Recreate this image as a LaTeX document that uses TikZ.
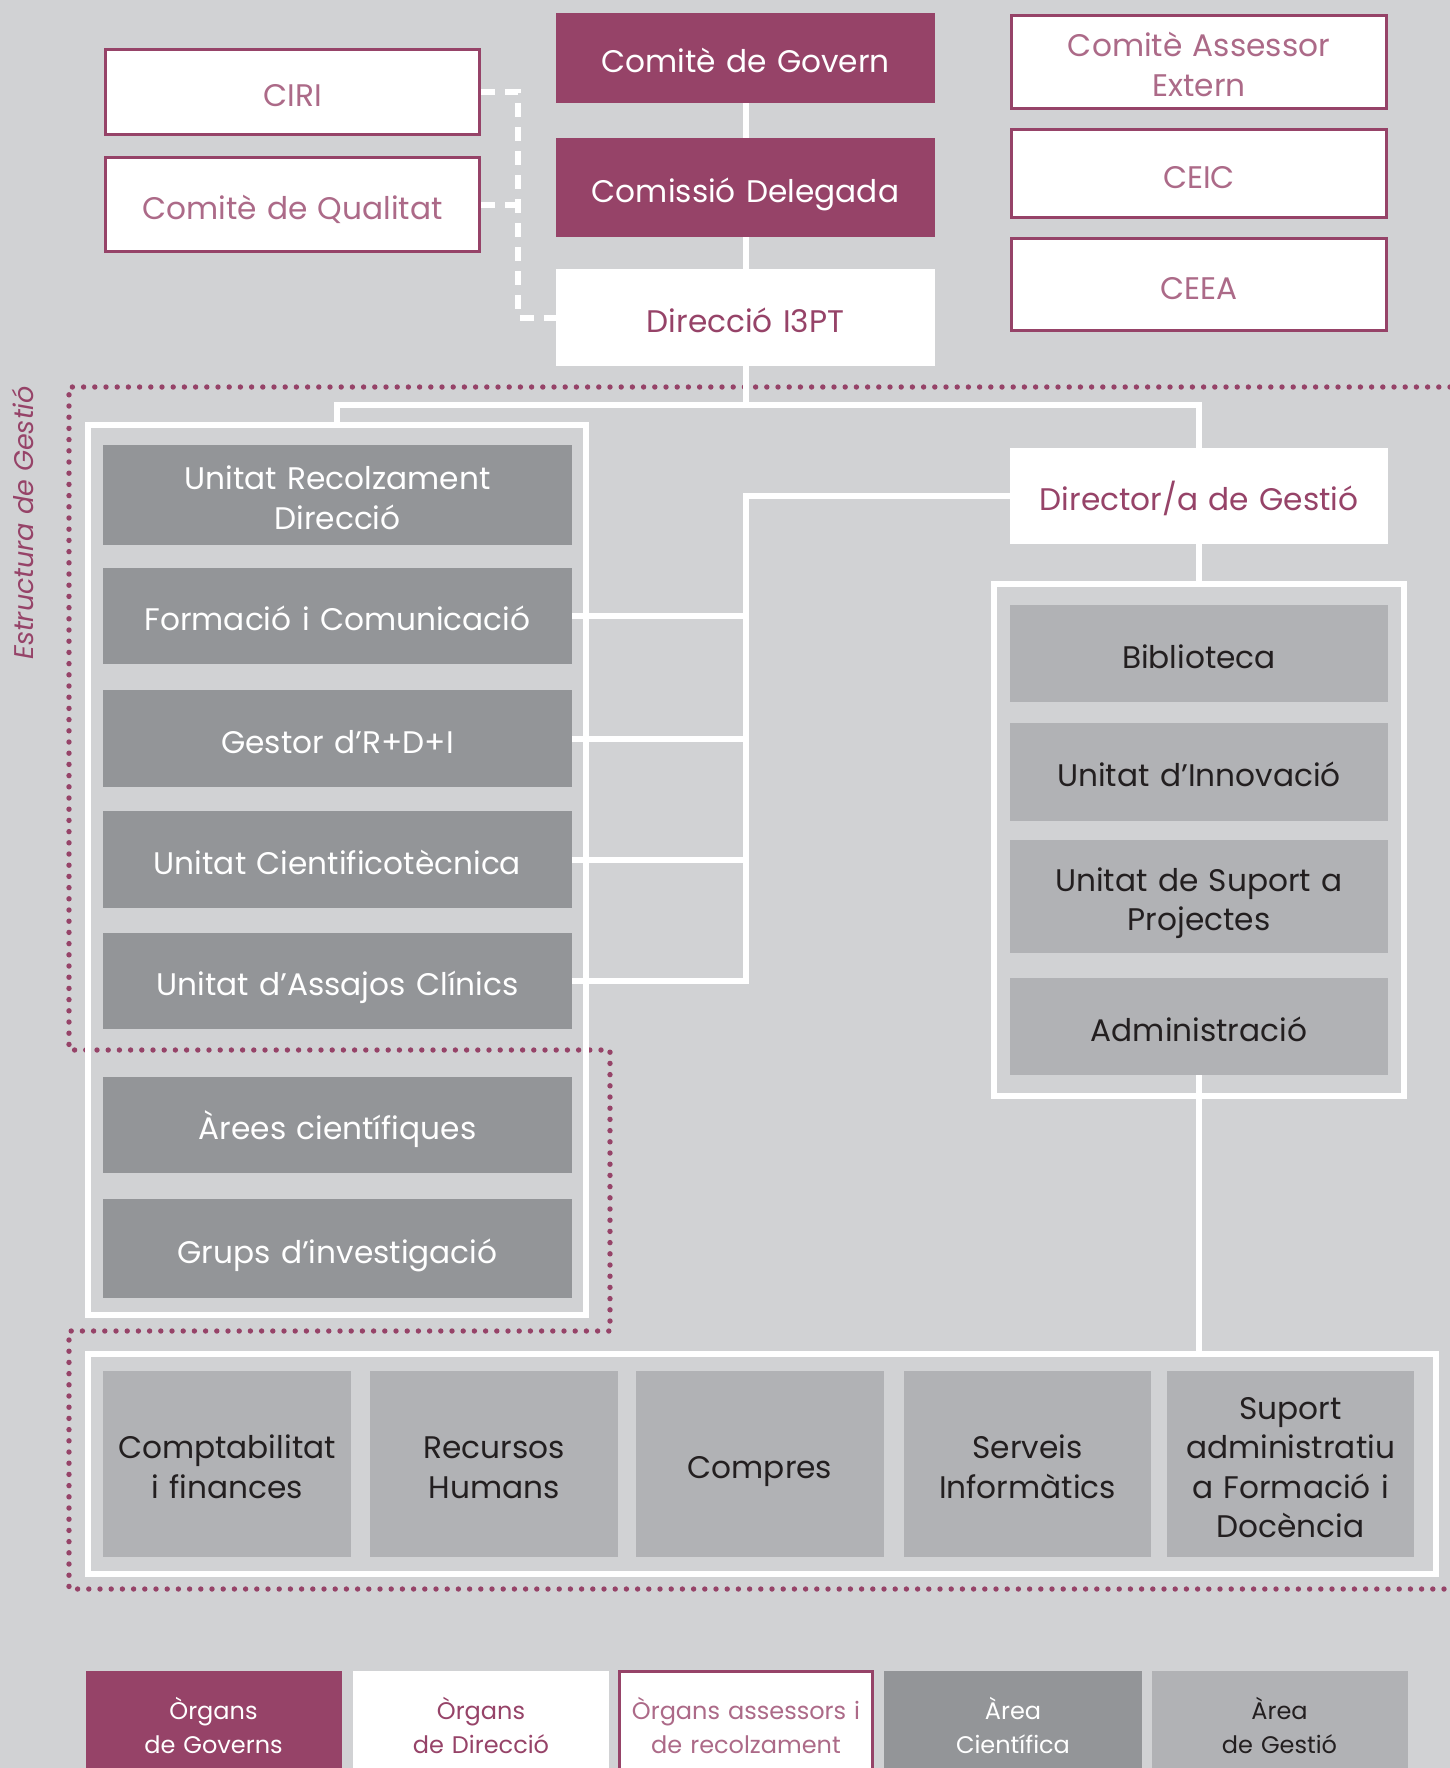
\documentclass[tikz,border=0pt]{standalone}
\usepackage{fontspec}
\setmainfont{Poppins}
\usetikzlibrary{positioning}

\definecolor{fons}{HTML}{D1D2D4}
\definecolor{granat}{HTML}{964368}
\definecolor{granatclar}{HTML}{AC6A88}
\definecolor{grisfosc}{HTML}{939598}
\definecolor{grisclar}{HTML}{B1B2B5}
\definecolor{textfosc}{HTML}{231F20}

\tikzset{
    caixa/.style={align=center, text width=180pt,
                  execute at begin node={\rule{0pt}{1.33em}},
                  execute at end node={\rule[-0.4em]{0pt}{0pt}}},
    govern/.style={caixa, fill=granat, text=white},
    direccio/.style={caixa, fill=white, text=granat},
    assessor/.style={caixa, fill=white, draw=granat, line width=1.5pt, text=granatclar},
    cientific/.style={caixa, fill=grisfosc, text=white, minimum width=234.5pt, text width=228pt},
    gestio/.style={caixa, fill=grisclar, text=textfosc},
    baix/.style={gestio, minimum width=#1, minimum height=93pt, text width=120pt},
    marc/.style={draw=white, line width=3pt, minimum width=#1},
    linia/.style={draw=white, line width=3pt},
    discont/.style={draw=white, line width=3pt, dash pattern=on 7pt off 5pt},
    puntejat/.style={draw=granat, line width=2.7pt, line cap=round, dash pattern=on 0pt off 5.6pt},
    llegenda/.style={minimum width=128pt, minimum height=54pt, text width=125pt, font=\fontsize{12}{17}\selectfont}
}

\begin{document}
\begin{tikzpicture}[
    x=0.5pt, y=-0.5pt,
    every node/.style={inner sep=0pt, font=\fontsize{15.6}{19.8}\selectfont}
]
\useasboundingbox (0,0) rectangle (1450,1768);
\fill[fons] (0,0) rectangle (1450,1768);

% Estructura de gestio
\draw[puntejat] (1450,387) -- (69,387) -- (69,1050) -- (610,1050) -- (610,1331)
    -- (69,1331) -- (69,1589) -- (1450,1589);
\node[text=granat, rotate=90, font=\fontsize{13.5}{16}\selectfont\itshape] (estructura) at (23,523) {Estructura de Gestió};

% Organs de govern i direccio
\node[govern, minimum width=189.5pt, minimum height=45pt] (govern) at (745.5,58) {Comitè de Govern};
\node[govern, minimum width=189.5pt, minimum height=49.5pt] (comissio) at (745.5,187.5) {Comissió Delegada};
\node[direccio, minimum width=189.5pt, minimum height=48.5pt] (direccio) at (745.5,317.5) {Direcció I3PT};

% Organs assessors
\node[assessor, minimum width=187pt, minimum height=42.5pt] (ciri) at (292.5,92) {CIRI};
\node[assessor, minimum width=187pt, minimum height=47pt] (qualitat) at (292.5,204.5) {Comitè de Qualitat};
\node[assessor, minimum width=187.5pt, minimum height=46.5pt] (extern) at (1199,62) {Comitè Assessor\\Extern};
\node[assessor, minimum width=187.5pt, minimum height=44pt] (ceic) at (1199,173.5) {CEIC};
\node[assessor, minimum width=187.5pt, minimum height=46pt] (ceea) at (1199,284.5) {CEEA};

% Marcs
\node[marc=249pt, minimum height=445pt] (marcesq) at (337,870) {};
\node[marc=205pt, minimum height=256pt] (marcdre) at (1199,840) {};
\node[marc=674pt, minimum height=110pt] (marcinf) at (762,1464) {};

% Area cientifica
\node[cientific, minimum height=50pt] (recolz) at (337.5,495) {Unitat Recolzament\\Direcció};
\node[cientific, minimum height=48pt] (formacio) at (337.5,616) {Formació i Comunicació};
\node[cientific, minimum height=48.5pt] (gestor) at (337.5,738.5) {Gestor d’R+D+I};
\node[cientific, minimum height=48.5pt] (cientif) at (337.5,859.5) {Unitat Cientificotècnica};
\node[cientific, minimum height=48pt] (assajos) at (337.5,981) {Unitat d’Assajos Clínics};
\node[cientific, minimum height=48pt] (arees) at (337.5,1125) {Àrees científiques};
\node[cientific, minimum height=49.5pt] (grups) at (337.5,1248.5) {Grups d’investigació};

% Area de gestio
\node[direccio, minimum width=189pt, minimum height=48pt] (director) at (1199,496) {Director/a de Gestió};
\node[gestio, minimum width=189pt, minimum height=48.5pt] (biblio) at (1199,653.5) {Biblioteca};
\node[gestio, minimum width=189pt, minimum height=49pt] (innovacio) at (1199,772) {Unitat d’Innovació};
\node[gestio, minimum width=189pt, minimum height=56.5pt] (projectes) at (1199,896.5) {Unitat de Suport a\\Projectes};
\node[gestio, minimum width=189pt, minimum height=48.5pt] (admin) at (1199,1026.5) {Administració};

\node[baix=124pt] (compt) at (227,1464) {Comptabilitat\\i finances};
\node[baix=124pt] (rrhh) at (494,1464) {Recursos\\Humans};
\node[baix=124pt] (compres) at (760,1464) {Compres};
\node[baix=123.5pt] (serveis) at (1027.5,1464) {Serveis\\Informàtics};
\node[baix=123.5pt] (suportadm) at (1290.5,1464) {Suport\\administratiu\\a Formació i\\Docència};

% Connexions
\coordinate (nus) at (745.5,405);
\coordinate (bus) at (745.5,0);
\coordinate (guio) at (518,0);
\draw[linia] (govern) -- (comissio);
\draw[linia] (comissio) -- (direccio);
\draw[linia] (direccio) -- (nus);
\draw[linia] (marcesq.north) |- (nus) -| (director);
\draw[linia] (director.west) -| (bus |- assajos.east) -- (assajos.east);
\foreach \n in {formacio, gestor, cientif}
    \draw[linia] (\n.east) -- (bus |- \n.east);
\draw[linia] (director) -- (marcdre.north);
\draw[linia] (admin.south) -- (admin.south |- marcinf.north);
\draw[discont] (ciri.east) -| (guio |- direccio.west) -- (direccio.west);
\draw[discont] (qualitat.east) -- (guio |- qualitat.east);

% Llegenda
\node[govern, llegenda] (llgovern) at (213.5,1725) {Òrgans\\de Governs};
\node[direccio, llegenda] (lldireccio) at (481,1725) {Òrgans\\de Direcció};
\node[assessor, llegenda, minimum width=126.5pt] (llassessor) at (746,1725) {Òrgans assessors i\\de recolzament};
\node[cientific, llegenda, minimum width=129pt] (llcientific) at (1013,1725) {Àrea\\Científica};
\node[gestio, llegenda] (llgestio) at (1279.5,1725) {Àrea\\de Gestió};

\end{tikzpicture}
\end{document}
